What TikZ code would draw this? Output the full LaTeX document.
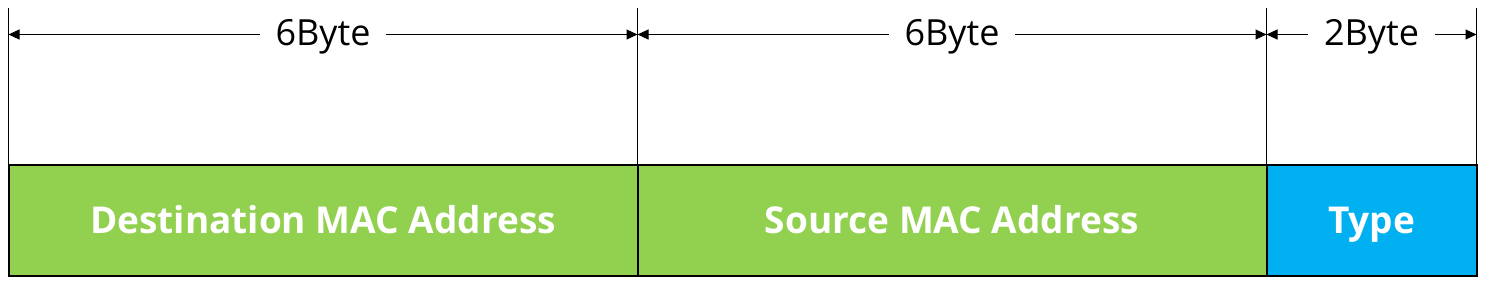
\documentclass[tikz,border=0pt]{standalone}
\usepackage{fontspec}
\setmainfont{Open Sans}
\usetikzlibrary{arrows.meta, positioning}
\definecolor{framegreen}{RGB}{146,208,80}
\definecolor{frameblue}{RGB}{0,176,240}

\begin{document}
\begin{tikzpicture}[x=1pt, y=-1pt,
  field/.style={draw=black, line width=2pt, outer sep=0pt, inner sep=0pt, text height=30pt, text depth=3pt,
    minimum height=111pt, text=white, font=\fontsize{37}{40}\selectfont\bfseries},
  bytes/.style={fill=white, inner xsep=16pt, inner ysep=2pt, yshift=-2pt, font=\fontsize{36}{40}\selectfont},
  dim/.style={{Triangle[length=11pt,width=10pt]}-{Triangle[length=11pt,width=10pt]}, line width=1pt}]
  \useasboundingbox (0,0) rectangle (1485,289);
  % header fields
  \node[field, fill=framegreen, minimum width=629pt, anchor=north west] (dst) at (8.5,164.5) {Destination MAC Address};
  \node[field, fill=framegreen, minimum width=629pt, anchor=west] (src) at (dst.east) {Source MAC Address};
  \node[field, fill=frameblue, minimum width=210pt, anchor=west] (typ) at (src.east) {Type};
  % extension lines
  \coordinate (t0) at ([yshift=157pt]dst.north west);
  \coordinate (t1) at ([yshift=157pt]src.north west);
  \coordinate (t2) at ([yshift=157pt]typ.north west);
  \coordinate (t3) at ([yshift=157pt]typ.north east);
  \draw[line width=1pt] (dst.north west) -- (t0);
  \draw[line width=1pt] (src.north west) -- (t1);
  \draw[line width=1pt] (typ.north west) -- (t2);
  \draw[line width=1pt] (typ.north east) -- (t3);
  % sizes
  \coordinate (a0) at ([yshift=130pt]dst.north west);
  \coordinate (a1) at ([yshift=130pt]src.north west);
  \coordinate (a2) at ([yshift=130pt]typ.north west);
  \coordinate (a3) at ([yshift=130pt]typ.north east);
  \draw[dim] (a0) -- (a1) node[midway, bytes] {6Byte};
  \draw[dim] (a1) -- (a2) node[midway, bytes] {6Byte};
  \draw[dim] (a2) -- (a3) node[midway, bytes] {2Byte};
\end{tikzpicture}
\end{document}
